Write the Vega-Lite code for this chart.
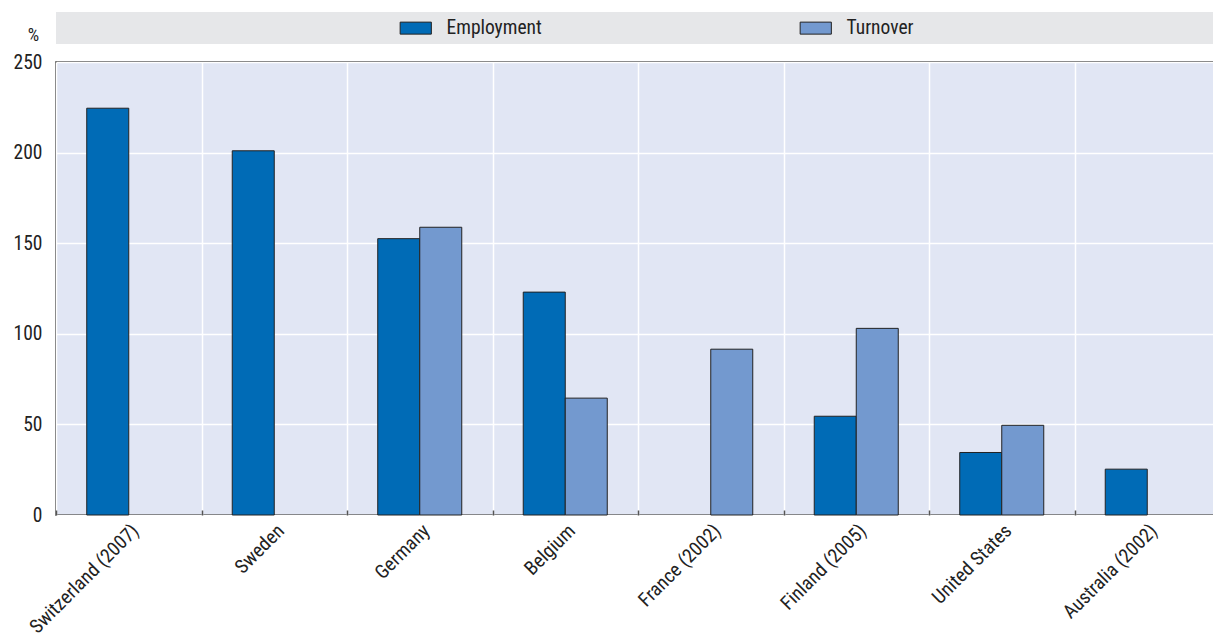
{
  "$schema": "https://vega.github.io/schema/vega-lite/v6.json",
  "autosize": {"type": "none"},
  "padding": {"left": 56, "top": 62, "right": 0, "bottom": 121},
  "width": 1164,
  "height": 453,
  "background": "white",
  "config": {
    "font": "Liberation Sans Narrow, Roboto Condensed, Arial Narrow, sans-serif",
    "view": {"fill": "#e1e6f4", "stroke": "#333333", "strokeWidth": 1.5},
    "axis": {"labelFont": "Liberation Sans Narrow, Roboto Condensed, sans-serif", "labelFontSize": 19.5, "labelColor": "#222222", "titleFont": "Liberation Sans Narrow, Roboto Condensed, sans-serif"}
  },
  "data": {
    "values": [
      {"country": "Switzerland (2007)", "series": "Employment", "value": 224.5},
      {"country": "Sweden", "series": "Employment", "value": 201},
      {"country": "Germany", "series": "Employment", "value": 152.5},
      {"country": "Germany", "series": "Turnover", "value": 158.8},
      {"country": "Belgium", "series": "Employment", "value": 123},
      {"country": "Belgium", "series": "Turnover", "value": 64.5},
      {"country": "France (2002)", "series": "Turnover", "value": 91.5},
      {"country": "Finland (2005)", "series": "Employment", "value": 54.5},
      {"country": "Finland (2005)", "series": "Turnover", "value": 103},
      {"country": "United States", "series": "Employment", "value": 34.5},
      {"country": "United States", "series": "Turnover", "value": 49.5},
      {"country": "Australia (2002)", "series": "Employment", "value": 25.3}
    ]
  },
  "mark": {"type": "bar", "stroke": "#222222", "strokeWidth": 1},
  "encoding": {
    "x": {
      "field": "country",
      "type": "nominal",
      "sort": ["Switzerland (2007)", "Sweden", "Germany", "Belgium", "France (2002)", "Finland (2005)", "United States", "Australia (2002)"],
      "scale": {"paddingInner": 0, "paddingOuter": 0},
      "axis": {
        "title": null,
        "tickBand": "extent",
        "grid": true,
        "gridColor": "white",
        "gridWidth": 1.5,
        "domain": false,
        "ticks": true,
        "tickSize": -5,
        "tickColor": "#555555",
        "tickWidth": 1.5,
        "labelAngle": -45,
        "labelAlign": "right",
        "labelBaseline": "top",
        "labelPadding": 11,
        "labelFontSize": 19.5
      }
    },
    "xOffset": {
      "field": "series",
      "type": "nominal",
      "scale": {"domain": ["Employment", "Turnover"], "paddingInner": 0, "paddingOuter": 0.732}
    },
    "y": {
      "field": "value",
      "type": "quantitative",
      "scale": {"domain": [0, 250], "nice": false},
      "axis": {
        "title": "%",
        "titleAngle": 0,
        "titleX": -23,
        "titleY": -18,
        "titleAlign": "center",
        "titleFontSize": 18,
        "titleFontWeight": "normal",
        "titleColor": "#222222",
        "values": [0, 50, 100, 150, 200, 250],
        "grid": true,
        "gridColor": "white",
        "gridWidth": 1.5,
        "ticks": false,
        "domain": false,
        "labelPadding": 14,
        "labelFontSize": 19.5
      }
    },
    "fill": {
      "field": "series",
      "type": "nominal",
      "scale": {"domain": ["Employment", "Turnover"], "range": ["#006bb6", "#7399cf"]},
      "legend": {
        "title": " ",
        "titleOrient": "left",
        "titlePadding": 335,
        "orient": "none",
        "legendX": 0,
        "legendY": -50,
        "direction": "horizontal",
        "columns": 2,
        "fillColor": "#e6e7e9",
        "padding": 6,
        "symbolType": "M-2.6,-1H2.6V1H-2.6Z",
        "symbolSize": 144,
        "symbolStrokeColor": "#222222",
        "symbolStrokeWidth": 1,
        "symbolOffset": 9,
        "labelOffset": 21,
        "columnPadding": 255,
        "labelLimit": 2000,
        "labelFontSize": 19.5,
        "labelColor": "#222222",
        "labelFont": "Liberation Sans Narrow, Roboto Condensed, sans-serif",
        "labelExpr": "datum.label == 'Turnover' ? 'Turnover\u00a0\u00a0\u00a0\u00a0\u00a0\u00a0\u00a0\u00a0\u00a0\u00a0\u00a0\u00a0\u00a0\u00a0\u00a0\u00a0\u00a0\u00a0\u00a0\u00a0\u00a0\u00a0\u00a0\u00a0\u00a0\u00a0\u00a0\u00a0\u00a0\u00a0\u00a0\u00a0\u00a0\u00a0\u00a0\u00a0\u00a0\u00a0\u00a0\u00a0\u00a0\u00a0\u00a0\u00a0\u00a0\u00a0\u00a0\u00a0\u00a0\u00a0\u00a0\u00a0\u00a0\u00a0\u00a0\u00a0\u00a0\u00a0\u00a0\u00a0\u00a0\u00a0\u00a0\u00a0\u00a0\u00a0\u00a0\u00a0\u00a0\u00a0\u00a0\u00a0\u00a0\u00a0\u00a0\u00a0\u00a0\u00a0\u00a0\u00a0\u00a0\u00a0\u00a0\u00a0\u00a0\u00a0\u200b' : datum.label"
      }
    }
  }
}
